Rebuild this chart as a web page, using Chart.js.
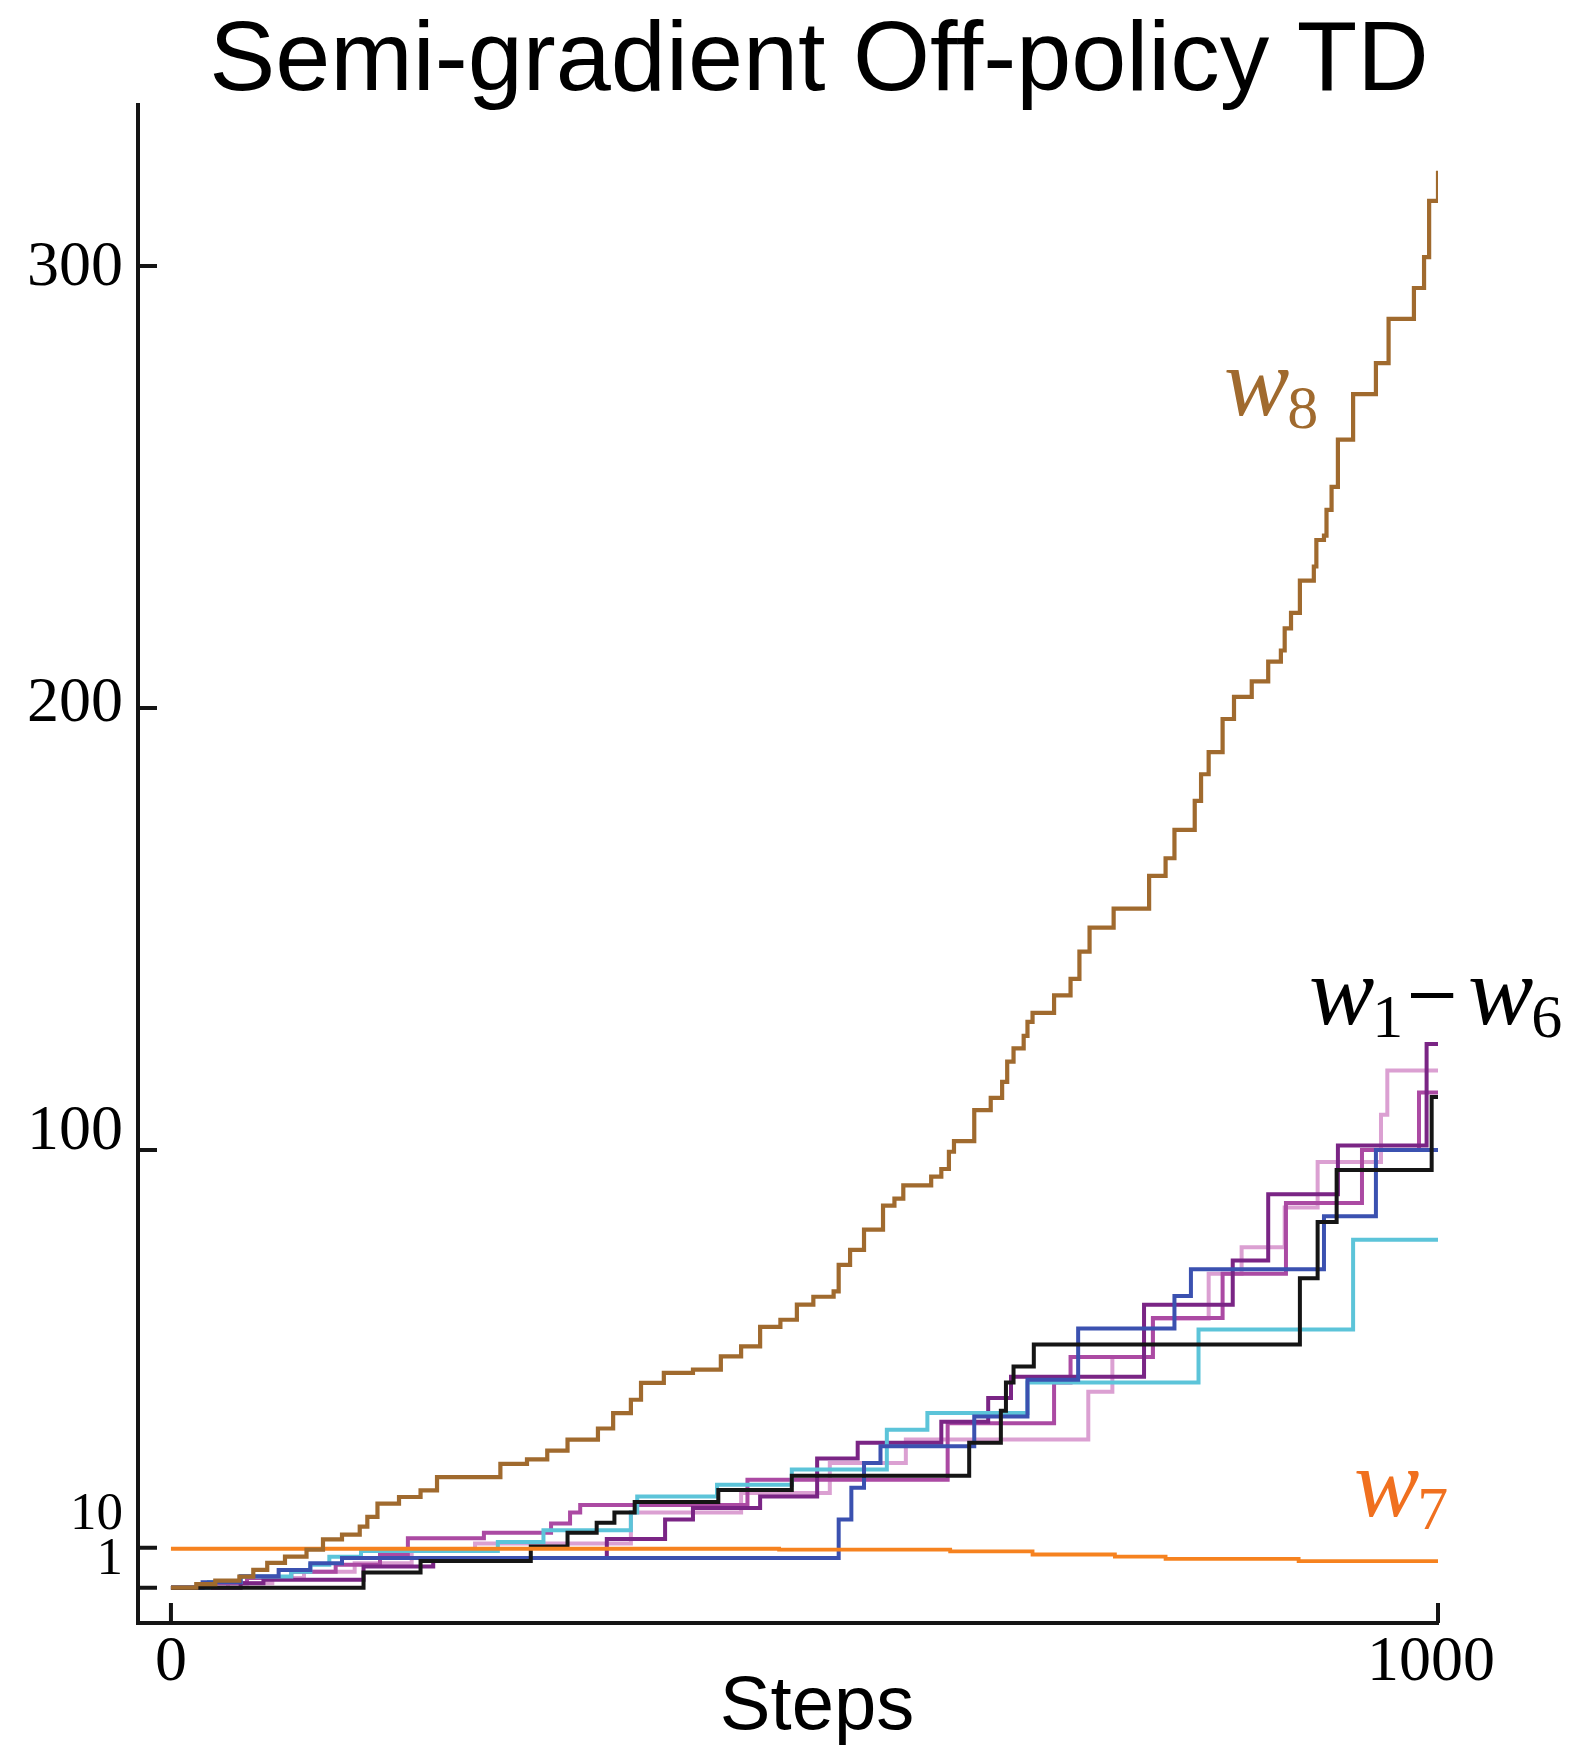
<!DOCTYPE html>
<html>
<head>
<meta charset="utf-8">
<title>Semi-gradient Off-policy TD</title>
<script src="https://cdn.jsdelivr.net/npm/chart.js@4.4.1/dist/chart.umd.min.js"></script>
<style>
    html, body { margin: 0; padding: 0; background: #ffffff; }
    #chartWrap { position: relative; width: 1573px; height: 1754px; }
</style>
</head>
<body>
<div id="chartWrap"><canvas id="weightsChart"></canvas></div>
<script>
// Values: each pair is (step where the weight jumps, new value)
const w8Steps = [0, 20, 35, 54, 65, 76, 90, 107, 120, 135, 149, 155, 163, 180, 197, 210, 260, 281, 297, 313, 337, 349, 363, 371, 389, 412, 434, 450, 465, 481, 494, 507, 523, 527, 536, 547, 562, 571, 578, 600, 608, 614, 618, 634, 647, 656, 660, 665, 673, 676, 680, 697, 710, 717, 725, 744, 772, 785, 792, 808, 813, 819, 830, 839, 853, 866, 876, 879, 884, 891, 902, 904, 910, 912, 916, 921, 933, 951, 961, 981, 989, 993, 1000];
const w8Values = [1, 1.8, 2.6, 3.5, 5, 6.6, 8, 9.6, 11.9, 13, 14.8, 17, 20, 21.5, 23, 26, 29, 30, 32, 34.5, 37, 40.5, 43.5, 47.3, 49.6, 50.3, 53.3, 55.6, 60, 61.6, 65, 66.8, 68, 74, 77.4, 82, 87.4, 89, 92, 94, 95.7, 99.6, 102, 109, 111.8, 115.4, 120, 123, 125.8, 129, 131, 135, 138.7, 144.9, 150.3, 154.6, 162, 166, 172.4, 179, 185, 190, 197.5, 202.5, 206, 210.5, 213, 218, 221.5, 228.8, 232, 238, 239, 244.8, 250, 260.7, 271, 278, 288, 295, 302, 314.7, 321.5];

const w7Steps = [0, 480, 615, 680, 745, 785, 890, 1000];
const w7Values = [9.8, 9.6, 9.2, 8.5, 8.0, 7.5, 7.0, 6.9];

const blackSteps = [0, 152, 197, 284, 313, 336, 350, 366, 432, 490, 630, 655, 659, 665, 681, 891, 905, 920, 995, 1000];
const blackValues = [1, 4.4, 7, 10.3, 13.4, 15.7, 18, 20.4, 23.1, 26.3, 33.8, 41, 47.4, 51, 56, 71, 83.7, 95.5, 112, 112];

const blueSteps = [0, 25, 55, 85, 110, 135, 527, 537, 547, 560, 634, 676, 716, 792, 805, 910, 951, 1000];
const blueValues = [1, 2.2, 3.6, 5, 6.5, 7.7, 16.4, 23.6, 29.2, 33, 39.7, 48, 59.6, 67, 73, 85, 100, 100];

const cyanSteps = [0, 30, 55, 95, 110, 125, 150, 258, 294, 363, 368, 431, 490, 565, 597, 676, 811, 933, 1000];
const cyanValues = [1, 2.3, 3.5, 4.6, 6.2, 8, 9.3, 11.3, 14, 18, 21.6, 24.3, 27.7, 36.7, 40.5, 47.4, 59.4, 79.7, 79.7];

const purpleSteps = [0, 55, 73, 152, 207, 344, 390, 412, 465, 510, 542, 608, 645, 663, 768, 838, 866, 921, 991, 1000];
const purpleValues = [1, 2, 2.8, 5.8, 7.7, 12, 16.4, 19, 21.6, 30.2, 33.8, 38.5, 43.9, 48.7, 65, 75, 90, 101, 124, 124];

const magentaSteps = [0, 30, 60, 95, 130, 165, 187, 247, 300, 315, 323, 455, 613, 697, 710, 775, 830, 880, 940, 985, 1000];
const magentaValues = [1, 2, 3.2, 4.6, 6.2, 8.5, 12.2, 13.4, 15.5, 18, 19.7, 25.4, 38.2, 47.4, 53.2, 62, 72, 88, 100, 113, 113];

const pinkSteps = [0, 45, 80, 105, 145, 190, 240, 363, 450, 520, 580, 724, 743, 775, 819, 845, 879, 905, 955, 960, 1000];
const pinkValues = [1, 2, 3.2, 4.6, 6.5, 9.5, 11, 18, 22.4, 29.2, 34.5, 45.3, 53.2, 61.8, 72, 78, 87, 97.3, 108, 118, 118];

// Axis ticks
const xTickValues = [0, 1000];
const yTickValues = [1, 10, 100, 200, 300];

const chartTitle = "Semi-gradient Off-policy TD";
const xAxisTitle = "Steps";

// Series styling (first entry is drawn on top)
const seriesList = [
    { steps: w8Steps, values: w8Values, color: "#a06a2e", width: 4.2 },
    { steps: w7Steps, values: w7Values, color: "#f6821f", width: 3.8 },
    { steps: blackSteps, values: blackValues, color: "#151515", width: 4 },
    { steps: blueSteps, values: blueValues, color: "#3b51b0", width: 4 },
    { steps: cyanSteps, values: cyanValues, color: "#5cc4d9", width: 4 },
    { steps: purpleSteps, values: purpleValues, color: "#7a2585", width: 4 },
    { steps: magentaSteps, values: magentaValues, color: "#ab4aa3", width: 4 },
    { steps: pinkSteps, values: pinkValues, color: "#dba0d2", width: 4 }
];

function toPoints(steps, values) {
    return steps.map((s, i) => ({ x: s, y: values[i] }));
}

// Draws title, inward tick marks, tick labels and the w labels
const figureDecor = {
    id: "figureDecor",
    afterDraw(chart) {
        const ctx = chart.ctx;
        const xScale = chart.scales.x;
        const yScale = chart.scales.y;
        const area = chart.chartArea;

        ctx.save();
        ctx.strokeStyle = "#151515";
        ctx.lineWidth = 4;
        ctx.beginPath();
        yTickValues.forEach(v => {
            const py = yScale.getPixelForValue(v);
            ctx.moveTo(area.left, py);
            ctx.lineTo(area.left + 19, py);
        });
        xTickValues.forEach(v => {
            const px = xScale.getPixelForValue(v);
            ctx.moveTo(px, area.bottom);
            ctx.lineTo(px, area.bottom - 20);
        });
        ctx.stroke();

        // y tick labels (the two small ones sit a little above their ticks)
        const yNudge = { 300: 2, 200: -4, 100: -18, 10: -33, 1: -28 };
        ctx.fillStyle = "#000";
        ctx.textAlign = "right";
        ctx.textBaseline = "middle";
        yTickValues.forEach(v => {
            const size = v < 100 ? 53 : 64;
            ctx.font = size + "px 'Liberation Serif', 'Times New Roman', serif";
            ctx.fillText(String(v), 123, yScale.getPixelForValue(v) + yNudge[v]);
        });

        ctx.textAlign = "center";
        ctx.font = "64px 'Liberation Serif', 'Times New Roman', serif";
        xTickValues.forEach(v => {
            const px = xScale.getPixelForValue(v) - (v > 0 ? 7 : 0);
            ctx.fillText(String(v), px, area.bottom + 40);
        });

        // titles
        ctx.textBaseline = "alphabetic";
        ctx.font = "99px 'Liberation Sans', Arial, sans-serif";
        ctx.fillText(chartTitle, 819, 90);
        ctx.font = "76px 'Liberation Sans', Arial, sans-serif";
        ctx.fillText(xAxisTitle, 817, 1729);

        // math-style weight labels
        ctx.textAlign = "left";
        function weightLabel(x, baseline, sub, color) {
            ctx.fillStyle = color;
            ctx.font = "italic 98px 'Liberation Serif', 'Times New Roman', serif";
            ctx.fillText("w", x, baseline);
            const wWidth = ctx.measureText("w").width;
            ctx.font = "62px 'Liberation Serif', 'Times New Roman', serif";
            ctx.fillText(sub, x + wWidth - 2, baseline + 13);
        }
        weightLabel(1224, 415, "8", "#a06a2e");
        weightLabel(1309, 1024, "1", "#000");
        ctx.font = "76px 'Liberation Sans', Arial, sans-serif";
        ctx.fillStyle = "#000";
        ctx.fillText("\u2013", 1411, 1015);
        weightLabel(1468, 1024, "6", "#000");
        weightLabel(1354, 1516, "7", "#f0701f");
        ctx.restore();
    }
};

const ctx = document.getElementById("weightsChart");

new Chart(ctx, {
    type: "line",
    data: {
        datasets: seriesList.map(s => ({
            data: toPoints(s.steps, s.values),
            borderColor: s.color,
            borderWidth: s.width,
            stepped: "before",
            pointRadius: 0,
            tension: 0,
            fill: false,
            borderJoinStyle: "miter",
            borderCapStyle: "butt"
        }))
    },
    options: {
        responsive: true,
        maintainAspectRatio: false,
        animation: false,
        layout: { padding: { left: 138, right: 135, top: 105, bottom: 131 } },
        plugins: {
            legend: { display: false },
            tooltip: { enabled: false },
            title: { display: false }
        },
        scales: {
            x: {
                type: "linear",
                min: -26,
                max: 1000,
                ticks: { display: false },
                grid: { display: false, drawTicks: false },
                border: { display: true, color: "#151515", width: 4 },
                afterFit(scale) { scale.height = 0; }
            },
            y: {
                type: "linear",
                min: -7,
                max: 336.4,
                ticks: { display: false },
                grid: { display: false, drawTicks: false },
                border: { display: true, color: "#151515", width: 4 },
                afterFit(scale) { scale.width = 0; }
            }
        }
    },
    plugins: [figureDecor]
});
</script>
</body>
</html>
